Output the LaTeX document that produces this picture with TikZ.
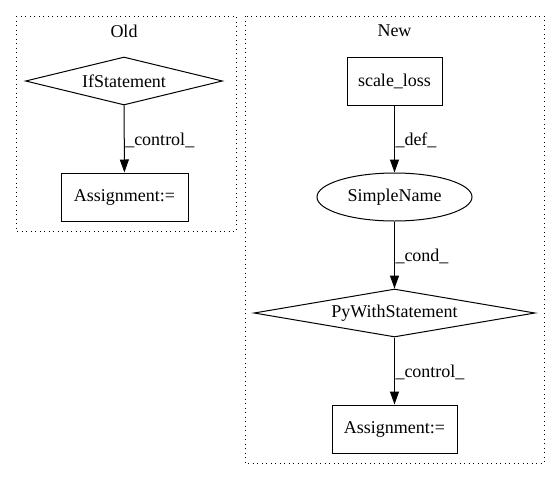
\documentclass[tikz,border=0pt]{standalone}
\usepackage{fontspec}
\setmainfont{Liberation Serif}
\usetikzlibrary{shapes.geometric,arrows.meta}
\begin{document}
\begin{tikzpicture}[x=1pt,y=-1pt,
  every node/.style={font=\fontsize{18}{20}\selectfont, inner sep=0pt},
  cluster/.style={draw, line width=1pt, dash pattern=on 1pt off 3.5pt},
  boxnode/.style={draw, line width=1pt, rectangle, minimum height=48pt},
  diam/.style={draw, line width=1pt, diamond, aspect=4.1, minimum height=48pt},
  ell/.style={draw, line width=1pt, ellipse, minimum height=48pt},
  edge/.style={draw, line width=1pt, -{Triangle[length=13pt,width=9pt]}},
  elabel/.style={anchor=west, inner sep=0.5pt}
]
\useasboundingbox (0,0) rectangle (560,480);
% clusters
\draw[cluster] (16,16) rectangle (236,231);
\node (oldlbl) at (124,31) {Old};
\draw[cluster] (245,16) rectangle (544,463);
\node (newlbl) at (394.5,31) {New};
% Old
\node[diam, minimum width=197pt] (if) at (124,81) {IfStatement};
\node[boxnode, minimum width=127pt] (oa) at (124.5,197) {Assignment:=};
\draw[edge] (if) -- (oa) node[elabel, pos=0.52] {\_control\_};
% New
\node[boxnode, minimum width=95pt] (sl) at (394.5,81) {scale\_loss};
\node[ell, minimum width=155pt] (sn) at (394.5,197) {SimpleName};
\node[diam, minimum width=281pt] (pw) at (394.5,313) {PyWithStatement};
\node[boxnode, minimum width=125pt] (na) at (394.5,429) {Assignment:=};
\draw[edge] (sl) -- (sn) node[elabel, pos=0.52] {\_def\_};
\draw[edge] (sn) -- (pw) node[elabel, pos=0.52] {\_cond\_};
\draw[edge] (pw) -- (na) node[elabel, pos=0.52] {\_control\_};
\end{tikzpicture}
\end{document}
